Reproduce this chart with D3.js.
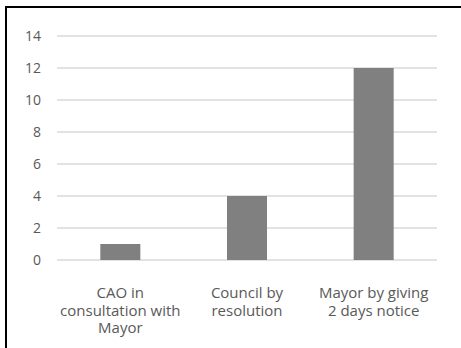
<!DOCTYPE html>
<html>
<head>
<meta charset="utf-8">
<script src="https://cdn.jsdelivr.net/npm/d3@7"></script>
<style>
  body { margin: 0; background: #fff; }
  svg text { font-family: "Open Sans", "Noto Sans", sans-serif; fill: #595959; }
</style>
</head>
<body>
<svg id="chart" width="461" height="348"></svg>
<script>
    // chart data
    var categories = [
        ['CAO in', 'consultation with', 'Mayor'],
        ['Council by', 'resolution'],
        ['Mayor by giving', '2 days notice']
    ];
    var values = [1, 4, 12];
    var yTicks = [0, 2, 4, 6, 8, 10, 12, 14];

    (function() {
        var svg = d3.select('#chart');

        // frame (top + left only)
        svg.append('line').attr('x1', 5).attr('x2', 461).attr('y1', 7).attr('y2', 7)
            .attr('stroke', '#000').attr('stroke-width', 2);
        svg.append('line').attr('x1', 6).attr('x2', 6).attr('y1', 6).attr('y2', 348)
            .attr('stroke', '#000').attr('stroke-width', 2);

        var plotLeft = 57, plotRight = 437, plotTop = 36, plotBottom = 260;

        var x = d3.scaleBand()
            .domain(d3.range(values.length))
            .range([plotLeft, plotRight])
            .paddingInner(0.684)
            .paddingOuter(0.342);

        var y = d3.scaleLinear().domain([0, 14]).range([plotBottom, plotTop]);

        // gridlines
        svg.append('g').selectAll('line')
            .data(yTicks)
            .enter().append('line')
            .attr('x1', plotLeft).attr('x2', plotRight)
            .attr('y1', function(d) { return y(d); })
            .attr('y2', function(d) { return y(d); })
            .attr('stroke', '#d9d9d9')
            .attr('stroke-width', 1.5);

        // y tick labels
        svg.append('g').selectAll('text')
            .data(yTicks)
            .enter().append('text')
            .attr('x', 41)
            .attr('y', function(d) { return y(d); })
            .attr('dy', '0.35em')
            .attr('text-anchor', 'end')
            .style('font-size', '14px')
            .text(function(d) { return d; });

        // bars
        svg.append('g').selectAll('rect')
            .data(values)
            .enter().append('rect')
            .attr('x', function(d, i) { return x(i); })
            .attr('width', x.bandwidth())
            .attr('y', function(d) { return y(d); })
            .attr('height', function(d) { return y(0) - y(d); })
            .attr('fill', '#808080');

        // category labels
        svg.append('g').selectAll('text')
            .data(categories)
            .enter().append('text')
            .attr('text-anchor', 'middle')
            .style('font-size', '15px')
            .each(function(d, i) {
                var cx = x(i) + x.bandwidth() / 2;
                var t = d3.select(this);
                d.forEach(function(line, n) {
                    t.append('tspan')
                        .attr('x', cx)
                        .attr('y', 298 + n * 17.5)
                        .text(line);
                });
            });
    })();
</script>
</body>
</html>
